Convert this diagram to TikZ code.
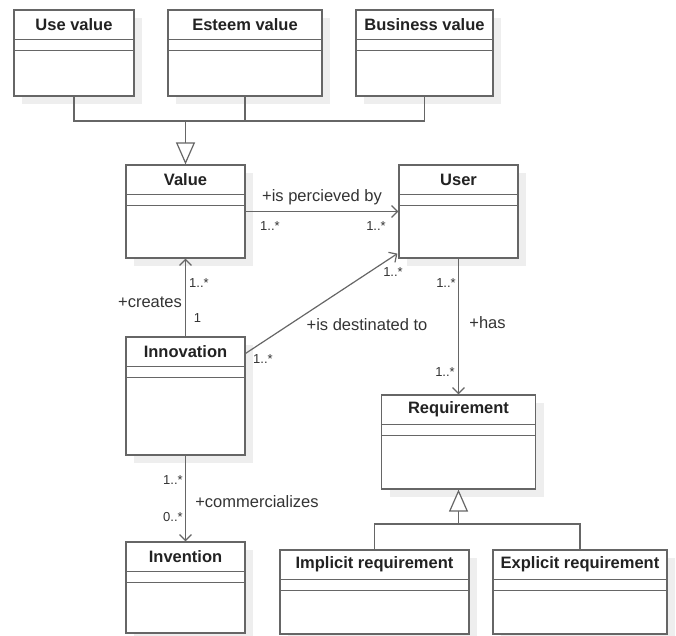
\documentclass[tikz,border=0pt]{standalone}
\usepackage{fontspec}
\setmainfont{Liberation Sans}
\usetikzlibrary{arrows.meta,calc,shadows}
\definecolor{linec}{HTML}{666666}
\definecolor{txtc}{HTML}{222222}
\definecolor{lblc}{HTML}{333333}
\definecolor{shadc}{HTML}{EEEEEE}
\tikzset{
  classbox/.style={draw=linec, line width=1.2pt, fill=white, inner sep=0pt,
    drop shadow={shadow xshift=8pt, shadow yshift=-8pt, fill=shadc, opacity=1}},
  sepline/.style={draw=linec, line width=1.2pt},
  classtitle/.style={text=txtc, font=\fontsize{16.5}{18}\selectfont\bfseries, inner sep=0pt},
  conn/.style={draw=linec, line width=1.2pt},
  assoc/.style={conn, -{Straight Barb[length=6pt,width=12pt,line width=1.2pt]}},
  gen/.style={conn, -{Triangle[open,length=22pt,width=19pt,fill=white,line width=1.2pt]}},
  rolelbl/.style={text=lblc, font=\fontsize{16.5}{18}\selectfont, inner sep=0pt},
  multlbl/.style={text=lblc, font=\fontsize{13}{14}\selectfont, inner sep=0pt}
}
\newcommand\umlclass[6]{%
  \node[classbox, minimum width=#4pt, minimum height=#5pt] (#1) at (#2,#3) {};
  \draw[sepline] ($(#1.north west)+(0,30)$) -- ($(#1.north east)+(0,30)$);
  \draw[sepline] ($(#1.north west)+(0,41)$) -- ($(#1.north east)+(0,41)$);
  \node[classtitle] (#1title) at ($(#1.north)+(0,15)$) {#6};
}
\begin{document}
\begin{tikzpicture}[x=1pt,y=-1pt]
\useasboundingbox (0,0) rectangle (676,635);
% classes
\umlclass{usev}{74}{53}{120}{86}{Use value}
\umlclass{esteem}{245}{53}{154}{86}{Esteem value}
\umlclass{business}{424.5}{53}{137}{86}{Business value}
\umlclass{value}{185.5}{211.5}{119}{93}{Value}
\umlclass{user}{458.5}{211.5}{119}{93}{User}
\umlclass{innov}{185.5}{396}{119}{118}{Innovation}
\umlclass{invention}{185.5}{587.5}{119}{91}{Invention}
\umlclass{requirement}{458.5}{442}{154}{94}{Requirement}
\umlclass{implicit}{374.5}{592}{189}{84}{Implicit requirement}
\umlclass{explicit}{580}{592}{174}{84}{Explicit requirement}
% generalization: values
\coordinate (gA) at (185.5,121);
\draw[conn] (usev.south) |- (gA) -| (business.south);
\draw[conn] (esteem.south) -- (esteem.south |- gA);
\draw[gen] (gA) -- (value.north);
% generalization: requirements
\coordinate (gB) at (458.5,524);
\draw[conn] (implicit.north) |- (gB) -| (explicit.north);
\draw[gen] (gB) -- (requirement.south);
% associations
\draw[assoc] (value.east) -- (user.west);
\draw[assoc] (innov.north) -- (value.south);
\coordinate (innovout) at ($(innov.north east)+(0,17)$);
\coordinate (userin) at ($(user.south west)+(-1,-5)$);
\draw[assoc] (innovout) -- (userin);
\draw[assoc] (user.south) -- (requirement.north);
\draw[assoc] (innov.south) -- (invention.north);
% labels
\node[rolelbl] (l1) at (322,197) {+is percieved by};
\node[multlbl] (m1) at (270,226) {1..*};
\node[multlbl] (m2) at (376,226) {1..*};
\node[multlbl] (m3) at (199,283) {1..*};
\node[rolelbl] (l2) at (150,302) {+creates};
\node[multlbl] (m4) at (197.5,318) {1};
\node[multlbl] (m5) at (393,272) {1..*};
\node[rolelbl] (l3) at (367,325) {+is destinated to};
\node[multlbl] (m6) at (263,359) {1..*};
\node[multlbl] (m7) at (446,283) {1..*};
\node[rolelbl] (l4) at (487.5,323) {+has};
\node[multlbl] (m8) at (445,372) {1..*};
\node[multlbl] (m9) at (173,480) {1..*};
\node[multlbl] (m10) at (173,517) {0..*};
\node[rolelbl] (l5) at (257,502) {+commercializes};
\end{tikzpicture}
\end{document}
